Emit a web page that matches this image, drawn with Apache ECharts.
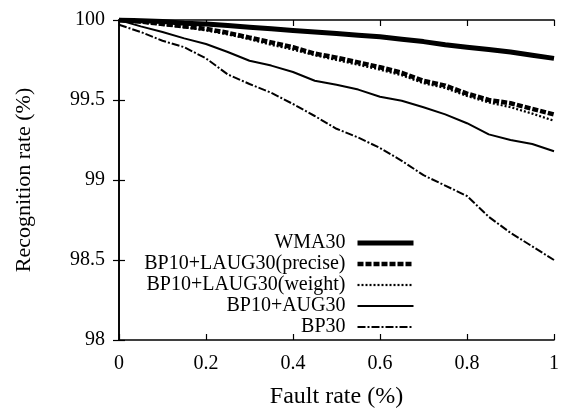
<!DOCTYPE html>
<html>
<head>
<meta charset="utf-8">
<script src="https://cdn.jsdelivr.net/npm/echarts@6/dist/echarts.min.js"></script>
<style>html,body{margin:0;padding:0;background:#fff}#c{width:562px;height:414px}</style>
</head>
<body>
<div id="c"></div>
<script>
const faultRate = [0,0.05,0.1,0.15,0.2,0.25,0.3,0.35,0.4,0.45,0.5,0.55,0.6,0.65,0.7,0.75,0.8,0.85,0.9,0.95,1];
const wma30 =      [100,99.995,99.99,99.98,99.975,99.965,99.955,99.945,99.935,99.925,99.915,99.905,99.895,99.88,99.865,99.845,99.83,99.815,99.8,99.78,99.76];
const lPrecise =   [100,99.99,99.975,99.96,99.945,99.92,99.89,99.86,99.83,99.79,99.765,99.735,99.705,99.67,99.62,99.59,99.54,99.5,99.48,99.445,99.41];
const lWeight =    [100,99.985,99.97,99.955,99.935,99.91,99.88,99.845,99.815,99.78,99.75,99.72,99.69,99.655,99.605,99.575,99.525,99.485,99.455,99.415,99.37];
const bpAug =      [100,99.96,99.925,99.885,99.85,99.8,99.745,99.715,99.675,99.62,99.595,99.565,99.52,99.495,99.455,99.41,99.355,99.285,99.25,99.225,99.18];
const bp30 =       [99.97,99.925,99.87,99.83,99.76,99.66,99.6,99.545,99.475,99.4,99.32,99.265,99.2,99.12,99.03,98.965,98.9,98.77,98.67,98.585,98.5];
const seriesNames = ['WMA30','BP10+LAUG30(precise)','BP10+LAUG30(weight)','BP10+AUG30','BP30'];
const xTicks = [0,0.2,0.4,0.6,0.8,1];
const yTicks = [98,98.5,99,99.5,100];

const FONT = 'Liberation Serif';
function pairs(vals){ return faultRate.map((x,i)=>[x, vals[i]]); }

const styles = [
  {width:5, type:'solid'},
  {width:4.5, type:[6,2]},
  {width:2.2, type:[2,2]},
  {width:2, type:'solid'},
  {width:2, type:[8,2,2,2]}
];
const allVals = [wma30, lPrecise, lWeight, bpAug, bp30];

const axisLine = {show:true, lineStyle:{color:'#000', width:1.6}};
const tick = {show:true, inside:true, length:6, lineStyle:{color:'#000', width:1.2}};

const chart = echarts.init(document.getElementById('c'), null, {renderer:'canvas'});
chart.setOption({
  animation:false,
  backgroundColor:'#fff',
  grid:{left:119, right:3, top:20, bottom:62, containLabel:false},
  xAxis:[{
    type:'value', min:xTicks[0], max:xTicks[xTicks.length-1], interval:xTicks[1]-xTicks[0],
    position:'bottom',
    name:'Fault rate (%)', nameLocation:'middle', nameGap:45,
    nameTextStyle:{fontFamily:FONT, fontSize:24, color:'#000'},
    axisLine:axisLine, axisTick:tick, splitLine:{show:false},
    axisLabel:{fontFamily:FONT, fontSize:20, color:'#000', margin:14}
  },{
    type:'value', min:xTicks[0], max:xTicks[xTicks.length-1], interval:xTicks[1]-xTicks[0],
    position:'top', axisLine:axisLine, axisTick:tick, splitLine:{show:false},
    axisLabel:{show:false}
  }],
  yAxis:[{
    type:'value', min:yTicks[0], max:yTicks[yTicks.length-1], interval:yTicks[1]-yTicks[0],
    position:'left',
    name:'Recognition rate (%)', nameLocation:'middle', nameGap:84, nameRotate:90,
    nameTextStyle:{fontFamily:FONT, fontSize:22, color:'#000'},
    axisLine:axisLine, axisTick:tick, splitLine:{show:false},
    axisLabel:{fontFamily:FONT, fontSize:20, color:'#000', margin:14}
  },{
    type:'value', min:yTicks[0], max:yTicks[yTicks.length-1], interval:yTicks[1]-yTicks[0],
    position:'right', axisLine:axisLine, axisTick:tick, splitLine:{show:false},
    axisLabel:{show:false}
  }],
  legend:{
    orient:'vertical', right:146, top:233, align:'right', padding:0,
    itemWidth:56, itemHeight:14, itemGap:1,
    itemStyle:{opacity:0},
    textStyle:{fontFamily:FONT, fontSize:20, lineHeight:20, color:'#000', padding:[0,7,0,0]},
    data: seriesNames.map((n,i)=>({
      name:n,
      lineStyle:{color:'#000', width:styles[i].width, type:styles[i].type}
    }))
  },
  series: seriesNames.map((n,i)=>({
    name:n, type:'line', data:pairs(allVals[i]), symbol:'none', showSymbol:false,
    xAxisIndex:0, yAxisIndex:0,
    lineStyle:{color:'#000', width:styles[i].width, type:styles[i].type},
    itemStyle:{color:'#000'},
    z: 10 - i
  }))
});
</script>
</body>
</html>
